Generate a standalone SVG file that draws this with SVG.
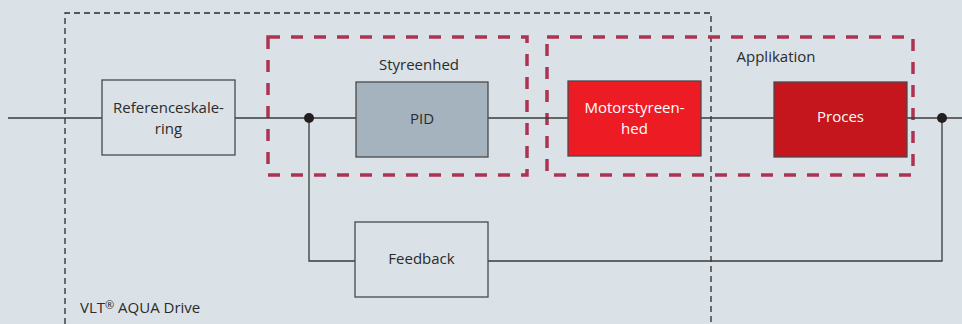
<svg xmlns="http://www.w3.org/2000/svg" width="962" height="324" viewBox="0 0 962 324">
<style>
.bg{fill:#dae1e7}
.box{stroke:#4a4a4a;stroke-width:1.3}
.ln{fill:none;stroke:#3a3a3a;stroke-width:1.3}
.grp{fill:none;stroke:#ad3353;stroke-width:3.5;stroke-dasharray:12 11}
.outer{fill:none;stroke:#2a2a2a;stroke-width:1.3;stroke-dasharray:6 4}
.t{font-family:"Open Sans","Noto Sans",sans-serif;font-size:15px;fill:#2b2b2b;text-anchor:middle}
.w{fill:#ffffff}
.l{text-anchor:start}
.dot{fill:#231f20}
</style>
<rect class="bg" x="0" y="0" width="962" height="324"/>
<g id="vlt-boundary">
<path class="outer" d="M65,324 V13 H711 V324"/>
<text class="t l" x="80" y="313">VLT<tspan font-size="11" dy="-4">®</tspan><tspan dy="4"> AQUA Drive</tspan></text>
</g>
<g id="styreenhed-group">
<rect class="grp" x="268" y="37" width="259" height="138"/>
<text class="t" x="419" y="70">Styreenhed</text>
</g>
<g id="applikation-group">
<rect class="grp" x="547" y="37" width="366" height="138"/>
<text class="t" x="776" y="62">Applikation</text>
</g>
<g id="connectors">
<path class="ln" d="M8,118 H102"/>
<path class="ln" d="M235,118 H356"/>
<path class="ln" d="M488,118 H568"/>
<path class="ln" d="M701,118 H774"/>
<path class="ln" d="M907,118 H962"/>
<path class="ln" d="M942,118 V261 H488"/>
<path class="ln" d="M355,261 H309 V118"/>
<circle class="dot" cx="309" cy="118" r="5"/>
<circle class="dot" cx="942" cy="118" r="5"/>
</g>
<g id="referenceskalering">
<rect class="box" x="102" y="80" width="133" height="75" fill="#dae1e7"/>
<text class="t" x="168.5" y="113">Referenceskale-</text>
<text class="t" x="168.5" y="134">ring</text>
</g>
<g id="pid">
<rect class="box" x="356" y="82" width="132" height="75" fill="#a4b3bd"/>
<text class="t" x="422" y="124">PID</text>
</g>
<g id="motorstyreenhed">
<rect class="box" x="568" y="81" width="133" height="75" fill="#ed1c24"/>
<text class="t w" x="634.5" y="113">Motorstyreen-</text>
<text class="t w" x="634.5" y="134">hed</text>
</g>
<g id="proces">
<rect class="box" x="774" y="82" width="133" height="75" fill="#c4161c"/>
<text class="t w" x="840.5" y="122">Proces</text>
</g>
<g id="feedback">
<rect class="box" x="355" y="222" width="133" height="75" fill="#dae1e7"/>
<text class="t" x="421.5" y="264">Feedback</text>
</g>
</svg>
